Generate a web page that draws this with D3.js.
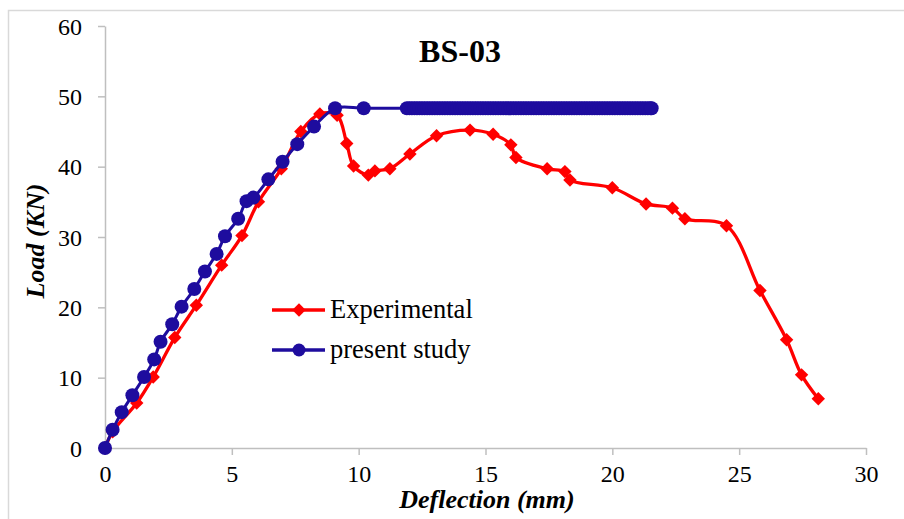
<!DOCTYPE html>
<html>
<head>
<meta charset="utf-8">
<script src="https://cdn.jsdelivr.net/npm/d3@7/dist/d3.min.js"></script>
<style>
	html, body { margin: 0; padding: 0; background: #fff; }
	svg { display: block; font-family: "Liberation Serif", "Times New Roman", serif; }
</style>
</head>
<body>
<script>
// chart values
const TITLE = "BS-03";
const X_TICKS = [0, 5, 10, 15, 20, 25, 30];
const Y_TICKS = [0, 10, 20, 30, 40, 50, 60];

const expDeflection = [0, 0.3, 1.25, 1.9, 2.75, 3.6, 4.6, 5.4, 6.05, 6.95, 7.72, 8.47, 9.15, 9.53, 9.8,
	10.38, 10.64, 11.23, 12.02, 13.07, 14.39, 15.3, 16.0, 16.2, 17.43, 18.13, 18.33, 20.0, 21.33,
	22.37, 22.86, 24.5, 25.82, 26.87, 27.46, 28.12];
const expLoad = [0, 2.3, 6.4, 10.1, 15.7, 20.3, 26.0, 30.2, 35.0, 39.7, 45.0, 47.5, 47.3, 43.3, 40.1,
	38.8, 39.4, 39.7, 41.8, 44.4, 45.2, 44.6, 43.1, 41.3, 39.7, 39.3, 38.1, 37.0, 34.7,
	34.1, 32.6, 31.6, 22.4, 15.4, 10.4, 7.0];

// rising branch of the numerical model
const studyRiseDeflection = [0, 0.3, 0.66, 1.08, 1.54, 1.94, 2.19, 2.65, 3.02, 3.52, 3.94, 4.4, 4.73, 5.25,
	5.58, 5.85, 6.44, 7.0, 7.58, 8.24, 9.07, 10.2];
const studyRiseLoad = [0, 2.6, 5.1, 7.5, 10.1, 12.6, 15.1, 17.6, 20.1, 22.6, 25.1, 27.6, 30.1, 32.6,
	35.1, 35.6, 38.2, 40.7, 43.2, 45.7, 48.3, 48.3];
// plateau: very closely spaced output steps
const studyPlateauDeflection = [11.9, 12.0, 12.1, 12.2, 12.3, 12.4, 12.5, 12.6, 12.7, 12.8, 12.9,
	13.0, 13.1, 13.2, 13.3, 13.4, 13.5, 13.6, 13.7, 13.8, 13.9, 14.0, 14.1, 14.2, 14.3, 14.4, 14.5,
	14.6, 14.7, 14.8, 14.9, 15.0, 15.1, 15.2, 15.3, 15.4, 15.5, 15.6, 15.7, 15.8, 15.9, 16.0, 16.1,
	16.2, 16.3, 16.4, 16.5, 16.6, 16.7, 16.8, 16.9, 17.0, 17.1, 17.2, 17.3, 17.4, 17.5, 17.6, 17.7,
	17.8, 17.9, 18.0, 18.1, 18.2, 18.3, 18.4, 18.5, 18.6, 18.7, 18.8, 18.9, 19.0, 19.1, 19.2, 19.3,
	19.4, 19.5, 19.6, 19.7, 19.8, 19.9, 20.0, 20.1, 20.2, 20.3, 20.4, 20.5, 20.6, 20.7, 20.8, 20.9,
	21.0, 21.1, 21.2, 21.3, 21.4, 21.5, 21.55];
const PLATEAU_LOAD = 48.3;

const RED = "#ff0000";
const BLUE = "#1e0c9e";
const AXIS_COLOR = "#bfbfbf";

const W = 904, H = 519;
const margin = { left: 105, right: W - 866, top: 26, bottom: H - 448 };

const svg = d3.select("body").append("svg")
	.attr("width", W)
	.attr("height", H);

// outer chart border (only top and left show inside the window)
svg.append("rect")
	.attr("x", 8.5).attr("y", 10.5)
	.attr("width", W + 20).attr("height", H + 20)
	.attr("fill", "none")
	.attr("stroke", "#d9d9d9")
	.attr("stroke-width", 1.5);

const x = d3.scaleLinear().domain([0, 30]).range([margin.left, W - margin.right]);
const y = d3.scaleLinear().domain([0, 60]).range([H - margin.bottom, margin.top]);

// axes
const xAxis = svg.append("g")
	.attr("transform", `translate(0,${y(0)})`)
	.call(d3.axisBottom(x).tickValues(X_TICKS).tickSize(7).tickPadding(10).tickSizeOuter(0));
const yAxis = svg.append("g")
	.attr("transform", `translate(${x(0)},0)`)
	.call(d3.axisLeft(y).tickValues(Y_TICKS).tickSize(7).tickPadding(16).tickSizeOuter(0));

for (const g of [xAxis, yAxis]) {
	g.select(".domain").attr("stroke", AXIS_COLOR).attr("stroke-width", 1.5);
	g.selectAll(".tick line").attr("stroke", AXIS_COLOR).attr("stroke-width", 1.5);
	g.selectAll(".tick text")
		.attr("fill", "#000")
		.style("font-family", "'Liberation Serif', 'Times New Roman', serif")
		.style("font-size", "24px");
}
xAxis.selectAll(".tick text").attr("dy", "0.71em");
yAxis.selectAll(".tick text").attr("dy", "0.34em");

// axis titles
svg.append("text")
	.attr("x", 487).attr("y", 508)
	.attr("text-anchor", "middle")
	.style("font-size", "26px").style("font-weight", "bold").style("font-style", "italic")
	.text("Deflection (mm)");

svg.append("text")
	.attr("transform", `translate(44,241) rotate(-90)`)
	.attr("text-anchor", "middle")
	.style("font-size", "26px").style("font-weight", "bold").style("font-style", "italic")
	.text("Load (KN)");

// title
svg.append("text")
	.attr("x", 460).attr("y", 62)
	.attr("text-anchor", "middle")
	.style("font-size", "32px").style("font-weight", "bold")
	.text(TITLE);

// series
const expData = expDeflection.map((d, i) => ({ x: d, y: expLoad[i] }));
const studyData = studyRiseDeflection.map((d, i) => ({ x: d, y: studyRiseLoad[i] }))
	.concat(studyPlateauDeflection.map(d => ({ x: d, y: PLATEAU_LOAD })));

const line = d3.line()
	.x(d => x(d.x))
	.y(d => y(d.y))
	.curve(d3.curveCatmullRom.alpha(0.5));

const diamond = d3.symbol().type(d3.symbolSquare).size(90);

svg.append("path")
	.attr("d", line(expData))
	.attr("fill", "none")
	.attr("stroke", RED)
	.attr("stroke-width", 3.3)
	.attr("stroke-linejoin", "round");

svg.append("g")
	.selectAll("path")
	.data(expData)
	.join("path")
	.attr("d", diamond)
	.attr("transform", d => `translate(${x(d.x)},${y(d.y)}) rotate(45)`)
	.attr("fill", RED);

svg.append("path")
	.attr("d", line(studyData))
	.attr("fill", "none")
	.attr("stroke", BLUE)
	.attr("stroke-width", 3)
	.attr("stroke-linejoin", "round");

svg.append("g")
	.selectAll("circle")
	.data(studyData)
	.join("circle")
	.attr("cx", d => x(d.x))
	.attr("cy", d => y(d.y))
	.attr("r", 7)
	.attr("fill", BLUE);

// legend
const legend = [
	{ name: "Experimental", color: RED, ly: 310, marker: "diamond" },
	{ name: "present study", color: BLUE, ly: 350, marker: "circle" }
];
const lg = svg.append("g");
for (const item of legend) {
	lg.append("line")
		.attr("x1", 272).attr("x2", 325)
		.attr("y1", item.ly).attr("y2", item.ly)
		.attr("stroke", item.color)
		.attr("stroke-width", 3.3);
	if (item.marker === "diamond") {
		lg.append("path")
			.attr("d", diamond)
			.attr("transform", `translate(299,${item.ly}) rotate(45)`)
			.attr("fill", item.color);
	} else {
		lg.append("circle")
			.attr("cx", 299).attr("cy", item.ly).attr("r", 6.5)
			.attr("fill", item.color);
	}
	lg.append("text")
		.attr("x", 330).attr("y", item.ly + 8)
		.style("font-size", "26.5px")
		.text(item.name);
}
</script>
</body>
</html>
